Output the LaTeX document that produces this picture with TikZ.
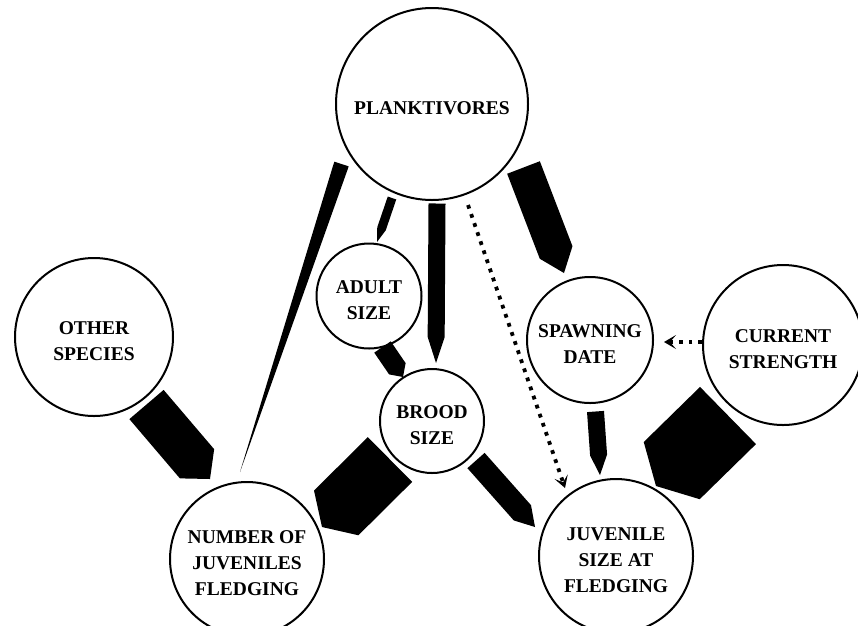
\documentclass[tikz,border=0pt]{standalone}
\usepackage{fontspec}
\setmainfont{Liberation Serif}
\usetikzlibrary{calc,arrows.meta}
\tikzset{
  lbl/.style={align=center, inner sep=0pt, yshift=-4pt,
    font=\bfseries\fontsize{19.5}{26}\selectfont},
  circ/.style={circle, draw, line width=2pt, minimum size=#1, inner sep=0pt},
  dotarrow/.style={line width=3.8pt, dash pattern=on 3.8pt off 5.8pt,
    -{Stealth[length=12pt,width=14pt,inset=6pt]}},
}
% pencil: start, end, width, tip length
\newcommand\pencil[4]{%
  \path (#1) coordinate (ps) (#2) coordinate (pe);
  \coordinate (pm) at ($(pe)!#4!(ps)$);
  \fill ($(ps)!#3/2!90:(pe)$) -- ($(ps)!#3/2!-90:(pe)$) --
        ($(pm)!#3/2!-90:(pe)$) -- (pe) -- ($(pm)!#3/2!90:(pe)$) -- cycle;
}
\begin{document}
\begin{tikzpicture}[x=1pt,y=-1pt]
\useasboundingbox (0,0) rectangle (858,625);
\node[circ=192pt, label={[lbl]center:PLANKTIVORES}] (plank) at (432,104) {};
\node[circ=158pt, label={[lbl]center:{OTHER\\SPECIES}}] (other) at (94,337) {};
\node[circ=105pt, label={[lbl]center:{ADULT\\SIZE}}] (adult) at (369,296) {};
\node[circ=104pt, label={[lbl]center:{BROOD\\SIZE}}] (brood) at (432,421) {};
\node[circ=126pt, label={[lbl]center:{SPAWNING\\DATE}}] (spawn) at (590,340) {};
\node[circ=160pt, label={[lbl]center:{CURRENT\\STRENGTH}}] (current) at (783,345) {};
\node[circ=154pt, label={[lbl]center:{NUMBER OF\\JUVENILES\\FLEDGING}}] (number) at (247,559) {};
\node[circ=154pt, label={[lbl]center:{JUVENILE\\SIZE AT\\FLEDGING}}] (juv) at (616,556) {};
% connector end points
\coordinate (o1) at (146.5,404.5); \coordinate (o2) at (210,479);
\coordinate (l1) at (341.5,164);   \coordinate (l2) at (240,472);
\coordinate (a1) at (392,198);     \coordinate (a2) at (377,242);
\coordinate (b1) at (437,203.5);   \coordinate (b2) at (436,363);
\coordinate (ab1) at (382.5,347);  \coordinate (ab2) at (403,377);
\coordinate (s1) at (523.5,167.5); \coordinate (s2) at (564,273);
\coordinate (bn1) at (390,459.5);  \coordinate (bn2) at (322,527);
\coordinate (bj1) at (476,460.5);  \coordinate (bj2) at (535,527);
\coordinate (sj1) at (595.5,411.5);\coordinate (sj2) at (600,475);
\coordinate (cj1) at (728,415.5);  \coordinate (cj2) at (656,486);
\coordinate (d1) at (468,205);     \coordinate (d2) at (565,488);
\coordinate (e1) at (702,342);     \coordinate (e2) at (664,342);
\pencil{o1}{o2}{45pt}{20pt}
\pencil{l1}{l2}{15pt}{320pt}
\pencil{a1}{a2}{9pt}{14pt}
\pencil{b1}{b2}{17pt}{26pt}
\pencil{ab1}{ab2}{20pt}{10pt}
\pencil{s1}{s2}{35pt}{22pt}
\pencil{bn1}{bn2}{63pt}{20pt}
\pencil{bj1}{bj2}{23pt}{19pt}
\pencil{sj1}{sj2}{17pt}{20pt}
\pencil{cj1}{cj2}{80pt}{22pt}
\draw[dotarrow] (d1) -- (d2);
\draw[dotarrow] (e1) -- (e2);
\end{tikzpicture}
\end{document}
